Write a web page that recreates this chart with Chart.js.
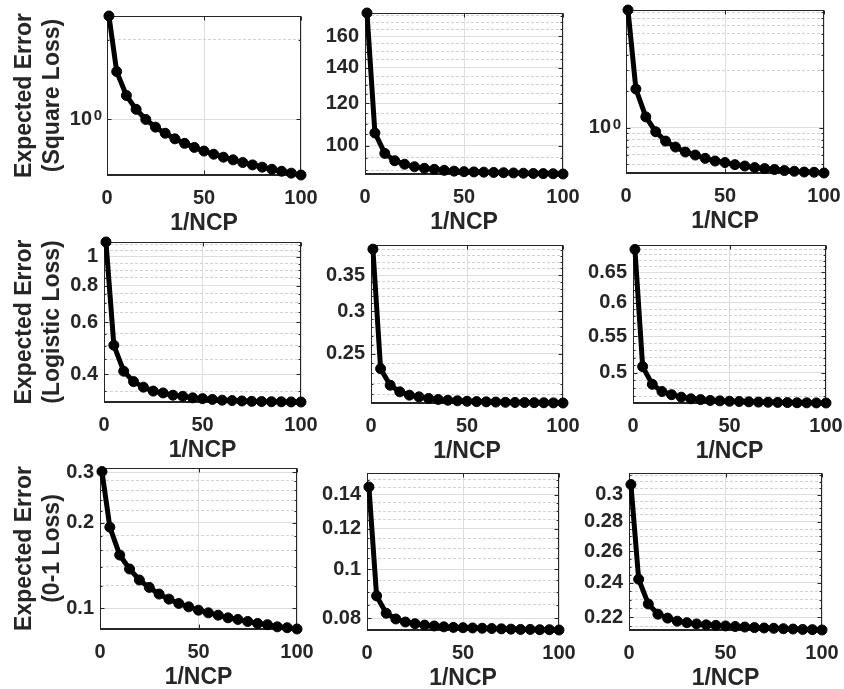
<!DOCTYPE html>
<html lang="en">
<head>
<meta charset="UTF-8">
<title>Expected error vs 1/NCP</title>
<style>
  body { margin: 0; background: #fff; }
  #wrap { position: relative; width: 844px; height: 689px; overflow: hidden; }
  #wrap canvas { position: absolute; }
</style>
</head>
<body>
<div id="wrap"></div>
<script src="https://cdn.jsdelivr.net/npm/chart.js"></script>
<script>
// x axis: 1/NCP
var ncp = [1, 5, 10, 15, 20, 25, 30, 35, 40, 45, 50, 55, 60, 65, 70, 75, 80, 85, 90, 95, 100];
var xTicks = [0, 50, 100];

// row 1 - square loss
var squareA = [20.0, 4.0, 2.0, 1.34, 1.0, 0.80, 0.67, 0.57, 0.50, 0.445, 0.40, 0.365, 0.335, 0.31, 0.287, 0.268, 0.251, 0.236, 0.223, 0.211, 0.20];
var squareB = [177, 105.7, 96.8, 93.8, 92.4, 91.4, 90.8, 90.4, 90.0, 89.7, 89.5, 89.4, 89.3, 89.2, 89.1, 89.0, 88.9, 88.8, 88.75, 88.7, 88.6];
var squareC = [9.40, 2.09, 1.23, 0.927, 0.776, 0.693, 0.630, 0.595, 0.559, 0.531, 0.516, 0.496, 0.483, 0.469, 0.460, 0.452, 0.443, 0.437, 0.431, 0.429, 0.423];

// row 2 - logistic loss
var logisticA = [1.124, 0.502, 0.410, 0.378, 0.362, 0.351, 0.346, 0.340, 0.337, 0.333, 0.331, 0.329, 0.327, 0.326, 0.325, 0.324, 0.3236, 0.3231, 0.3229, 0.3226, 0.3224];
var logisticB = [0.391, 0.2345, 0.2185, 0.2124, 0.2094, 0.2079, 0.2065, 0.2056, 0.2049, 0.2044, 0.2040, 0.2037, 0.2035, 0.2033, 0.2031, 0.2030, 0.2029, 0.2028, 0.2027, 0.2026, 0.2025];
var logisticC = [0.690, 0.508, 0.485, 0.476, 0.472, 0.469, 0.467, 0.466, 0.465, 0.4645, 0.464, 0.4637, 0.4633, 0.463, 0.4628, 0.4626, 0.4624, 0.4622, 0.4621, 0.462, 0.4619];

// row 3 - 0-1 loss
var zeroOneA = [0.302, 0.1927, 0.1539, 0.1375, 0.1258, 0.1185, 0.1123, 0.1078, 0.1041, 0.1013, 0.0986, 0.0965, 0.0947, 0.0927, 0.0915, 0.0900, 0.0886, 0.0877, 0.0862, 0.0856, 0.0847];
var zeroOneB = [0.1452, 0.0885, 0.0818, 0.0797, 0.0786, 0.0780, 0.0775, 0.0772, 0.0769, 0.0767, 0.0766, 0.0765, 0.0764, 0.0763, 0.0762, 0.0761, 0.0760, 0.0760, 0.0759, 0.0759, 0.0758];
var zeroOneC = [0.3078, 0.2422, 0.2275, 0.2217, 0.2195, 0.2178, 0.2170, 0.2163, 0.2158, 0.2155, 0.2152, 0.2149, 0.2146, 0.2143, 0.2141, 0.2139, 0.2137, 0.2135, 0.2133, 0.2132, 0.2130];

// y tick values (labelled) per panel
var ticksSquareA = [1], ticksSquareB = [100, 120, 140, 160], ticksSquareC = [1];
var ticksLogisticA = [0.4, 0.6, 0.8, 1], ticksLogisticB = [0.25, 0.3, 0.35], ticksLogisticC = [0.5, 0.55, 0.6, 0.65];
var ticksZeroOneA = [0.1, 0.2, 0.3], ticksZeroOneB = [0.08, 0.1, 0.12, 0.14], ticksZeroOneC = [0.22, 0.24, 0.26, 0.28, 0.3];

var rowTitles = [
    ['Expected Error', '(Square Loss)'],
    ['Expected Error', '(Logistic Loss)'],
    ['Expected Error', '(0-1 Loss)']
];

var ink = '#262626';
var family = '"Liberation Sans", Arial, Helvetica, sans-serif';
var tickFont = { family: family, size: 20, weight: 'bold' };
var titleFont = { family: family, size: 23, weight: 'bold', lineHeight: 1.25 };
var supFont = 'bold 15px ' + family;

// box: plot area [left, top, right, bottom]; lim: y limits; minor: dashed grid step, 'log' or list
var panels = [
    { box: [107, 16, 301, 175], data: squareA, ticks: ticksSquareA, lim: [0.2, 20], minor: [10], pow: true, title: rowTitles[0] },
    { box: [365, 13, 563, 174], data: squareB, ticks: ticksSquareB, lim: [88.6, 177], minor: 5 },
    { box: [626, 10, 824, 173], data: squareC, ticks: ticksSquareC, lim: [0.423, 9.4], minor: 'log', pow: true },
    { box: [104, 242, 301, 402], data: logisticA, ticks: ticksLogisticA, lim: [0.3224, 1.124], minor: 0.05, title: rowTitles[1] },
    { box: [371, 245, 563, 403], data: logisticB, ticks: ticksLogisticB, lim: [0.2025, 0.398], minor: 0.01 },
    { box: [633, 245, 826, 403], data: logisticC, ticks: ticksLogisticC, lim: [0.4619, 0.698], minor: 0.01 },
    { box: [100, 468, 297, 629], data: zeroOneA, ticks: ticksZeroOneA, lim: [0.0847, 0.3108], minor: 0.02, title: rowTitles[2] },
    { box: [367, 473, 559, 630], data: zeroOneB, ticks: ticksZeroOneB, lim: [0.0758, 0.1547], minor: 0.005 },
    { box: [629, 473, 822, 630], data: zeroOneC, ticks: ticksZeroOneC, lim: [0.2130, 0.3169], minor: 0.005 }
];

function minorValues(p) {
    var lo = p.lim[0], hi = p.lim[1], out = [];
    if (Array.isArray(p.minor)) return p.minor.slice();
    if (p.minor === 'log') {
        for (var k = Math.floor(Math.log10(lo)); k <= Math.ceil(Math.log10(hi)); k++) {
            for (var m = 2; m <= 9; m++) {
                var v = m * Math.pow(10, k);
                if (v > lo && v < hi) out.push(v);
            }
        }
        return out;
    }
    var step = p.minor;
    for (var i = Math.ceil(lo / step); i * step < hi; i++) {
        var val = +(i * step).toFixed(6);
        var isMajor = p.ticks.some(function (t) { return Math.abs(t - val) < step / 100; });
        if (!isMajor) out.push(val);
    }
    return out;
}

// MATLAB style box with inward tick marks (+ exponent of 10^0 labels)
var framePlugin = {
    id: 'frame',
    beforeDatasetsDraw: function (chart, args, opts) {
        var a = chart.chartArea, c = chart.ctx;
        var L = Math.round(a.left) + 0.5, R = Math.round(a.right) - 0.5;
        var T = Math.round(a.top) + 0.5, B = Math.round(a.bottom) - 0.5;
        c.save();
        c.strokeStyle = ink;
        c.lineWidth = 1;
        c.beginPath();
        chart.scales.y.ticks.forEach(function (t) {
            var y = Math.round(chart.scales.y.getPixelForValue(t.value)) + 0.5;
            var len = t.big ? 4 : 2;
            c.moveTo(L, y); c.lineTo(L + len, y);
            c.moveTo(R, y); c.lineTo(R - len, y);
        });
        chart.scales.x.ticks.forEach(function (t) {
            var x = Math.round(chart.scales.x.getPixelForValue(t.value)) + 0.5;
            c.moveTo(x, B); c.lineTo(x, B - 4);
            c.moveTo(x, T); c.lineTo(x, T + 4);
        });
        c.stroke();
        c.strokeRect(L, T, R - L, B - T);

        if (opts.pow) {
            c.fillStyle = ink;
            c.font = supFont;
            c.textAlign = 'right';
            c.textBaseline = 'alphabetic';
            chart.scales.y.ticks.forEach(function (t) {
                if (!t.big) return;
                var y = chart.scales.y.getPixelForValue(t.value);
                c.fillText(String(Math.round(Math.log10(t.value))), a.left - 5, y + 1);
            });
        }
        c.restore();
    }
};

var wrap = document.getElementById('wrap');

panels.forEach(function (p) {
    // margins are kept wider than the label overhang so the plot box lands where it should
    var ML = p.title ? p.box[0] : 70, MT = 32, MR = 34, MB = 63;
    var l = p.box[0], t = p.box[1], r = p.box[2], b = p.box[3];
    var cv = document.createElement('canvas');
    cv.width = (r - l) + ML + MR;
    cv.height = (b - t) + MT + MB;
    cv.style.left = (l - ML) + 'px';
    cv.style.top = (t - MT) + 'px';
    wrap.appendChild(cv);

    var yTicks = p.ticks.map(function (v) { return { value: v, big: true }; })
        .concat(minorValues(p).map(function (v) { return { value: v, big: false }; }))
        .sort(function (a, b) { return a.value - b.value; });

    new Chart(cv.getContext('2d'), {
        type: 'line',
        data: {
            datasets: [{
                data: p.data.map(function (v, i) { return { x: ncp[i], y: v }; }),
                borderColor: '#000',
                backgroundColor: '#000',
                borderWidth: 5,
                pointRadius: 5,
                pointBorderWidth: 1,
                pointStyle: 'circle',
                tension: 0,
                clip: false
            }]
        },
        options: {
            responsive: false,
            animation: false,
            events: [],
            layout: { padding: { top: MT, right: MR, left: 0, bottom: 0 } },
            plugins: {
                legend: { display: false },
                tooltip: { enabled: false },
                frame: { pow: !!p.pow }
            },
            scales: {
                x: {
                    type: 'linear',
                    min: 0,
                    max: 100,
                    afterBuildTicks: function (s) { s.ticks = xTicks.map(function (v) { return { value: v }; }); },
                    afterFit: function (s) { s.height = MB; },
                    grid: { color: '#dedede', drawTicks: false },
                    border: { color: ink },
                    ticks: { font: tickFont, color: ink, padding: 11, maxRotation: 0, autoSkip: false },
                    title: { display: true, text: '1/NCP', font: titleFont, color: ink, padding: 0 }
                },
                y: {
                    type: 'logarithmic',
                    min: p.lim[0],
                    max: p.lim[1],
                    bounds: 'data',
                    afterBuildTicks: function (s) { s.ticks = yTicks.slice(); },
                    afterFit: function (s) { s.width = ML; },
                    grid: {
                        drawTicks: false,
                        color: function (ctx) { return ctx.tick && ctx.tick.big ? '#dedede' : '#d2d2d2'; }
                    },
                    border: {
                        color: ink,
                        dash: function (ctx) { return ctx.tick && !ctx.tick.big ? [3, 2] : []; }
                    },
                    ticks: {
                        font: tickFont,
                        color: ink,
                        padding: p.pow ? 15 : 6,
                        autoSkip: false,
                        callback: function (value, i, ticks) {
                            if (!ticks[i].big) return '';
                            return p.pow ? '10' : String(value);
                        }
                    },
                    title: {
                        display: !!p.title,
                        text: p.title || '',
                        font: titleFont,
                        color: ink,
                        padding: { top: 10, bottom: 0 }
                    }
                }
            }
        },
        plugins: [framePlugin]
    });
});
</script>
</body>
</html>
